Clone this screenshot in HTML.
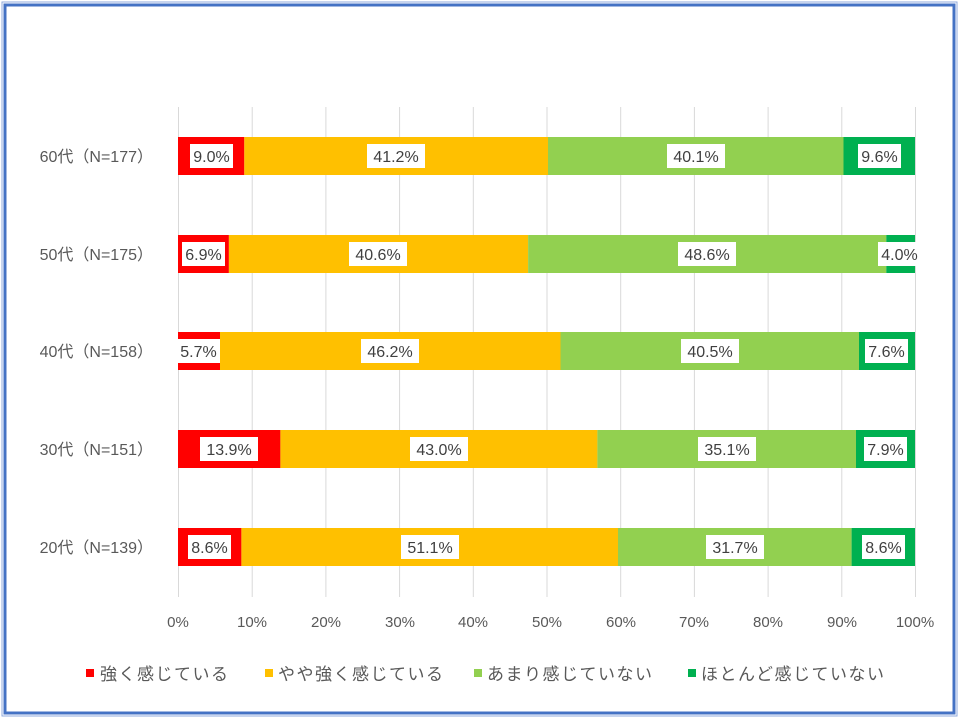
<!DOCTYPE html>
<html><head><meta charset="utf-8"><style>
html,body{margin:0;padding:0;background:#fff;}
svg{display:block;}
text{font-family:"Liberation Sans","Noto Sans CJK JP",sans-serif;}
</style></head><body>
<svg width="960" height="720" xmlns="http://www.w3.org/2000/svg">
<rect x="0" y="0" width="960" height="720" fill="#fff"/>
<rect x="5" y="5" width="949" height="708" fill="none" stroke="#4472C4" stroke-width="3"/>
<rect x="2" y="2" width="955" height="714" fill="none" stroke="#8FAADC" stroke-width="1"/>
<g stroke="#D9D9D9" stroke-width="1">
<line x1="178.5" y1="107" x2="178.5" y2="597"/><line x1="252.2" y1="107" x2="252.2" y2="597"/>
<line x1="325.9" y1="107" x2="325.9" y2="597"/><line x1="399.6" y1="107" x2="399.6" y2="597"/>
<line x1="473.3" y1="107" x2="473.3" y2="597"/><line x1="547" y1="107" x2="547" y2="597"/>
<line x1="620.7" y1="107" x2="620.7" y2="597"/><line x1="694.4" y1="107" x2="694.4" y2="597"/>
<line x1="768.1" y1="107" x2="768.1" y2="597"/><line x1="841.8" y1="107" x2="841.8" y2="597"/>
<line x1="915.5" y1="107" x2="915.5" y2="597"/>
</g>
<rect x="178" y="137" width="66.3" height="38" fill="#FF0000"/><rect x="244.3" y="137" width="303.7" height="38" fill="#FFC000"/><rect x="548" y="137" width="295.5" height="38" fill="#92D050"/><rect x="843.5" y="137" width="71.5" height="38" fill="#00B050"/>
<rect x="178" y="235" width="50.9" height="38" fill="#FF0000"/><rect x="228.9" y="235" width="299.2" height="38" fill="#FFC000"/><rect x="528.1" y="235" width="358.2" height="38" fill="#92D050"/><rect x="886.3" y="235" width="28.7" height="38" fill="#00B050"/>
<rect x="178" y="332" width="42" height="38" fill="#FF0000"/><rect x="220" y="332" width="340.5" height="38" fill="#FFC000"/><rect x="560.5" y="332" width="298.5" height="38" fill="#92D050"/><rect x="859" y="332" width="56" height="38" fill="#00B050"/>
<rect x="178" y="430" width="102.4" height="38" fill="#FF0000"/><rect x="280.4" y="430" width="317" height="38" fill="#FFC000"/><rect x="597.4" y="430" width="258.6" height="38" fill="#92D050"/><rect x="856" y="430" width="59" height="38" fill="#00B050"/>
<rect x="178" y="528" width="63.4" height="38" fill="#FF0000"/><rect x="241.4" y="528" width="376.6" height="38" fill="#FFC000"/><rect x="618" y="528" width="233.6" height="38" fill="#92D050"/><rect x="851.6" y="528" width="63.4" height="38" fill="#00B050"/>
<g fill="#fff">
<rect x="190" y="144" width="43" height="24"/><rect x="367" y="144" width="58" height="24"/><rect x="667" y="144" width="58" height="24"/><rect x="858" y="144" width="43" height="24"/>
<rect x="182" y="242" width="43" height="24"/><rect x="349" y="242" width="58" height="24"/><rect x="678" y="242" width="58" height="24"/><rect x="878" y="242" width="43" height="24"/>
<rect x="177" y="339" width="43" height="24"/><rect x="361" y="339" width="58" height="24"/><rect x="681" y="339" width="58" height="24"/><rect x="865" y="339" width="43" height="24"/>
<rect x="200" y="437" width="58" height="24"/><rect x="410" y="437" width="58" height="24"/><rect x="698" y="437" width="58" height="24"/><rect x="864" y="437" width="43" height="24"/>
<rect x="188" y="535" width="43" height="24"/><rect x="401" y="535" width="58" height="24"/><rect x="706" y="535" width="58" height="24"/><rect x="862" y="535" width="43" height="24"/>
</g>
<g font-size="16" fill="#404040" text-anchor="middle">
<text x="211.5" y="162">9.0%</text><text x="396" y="162">41.2%</text><text x="696" y="162">40.1%</text><text x="879.5" y="162">9.6%</text>
<text x="203.5" y="260">6.9%</text><text x="378" y="260">40.6%</text><text x="707" y="260">48.6%</text><text x="899.5" y="260">4.0%</text>
<text x="198.5" y="357">5.7%</text><text x="390" y="357">46.2%</text><text x="710" y="357">40.5%</text><text x="886.5" y="357">7.6%</text>
<text x="229" y="455">13.9%</text><text x="439" y="455">43.0%</text><text x="727" y="455">35.1%</text><text x="885.5" y="455">7.9%</text>
<text x="209.5" y="553">8.6%</text><text x="430" y="553">51.1%</text><text x="735" y="553">31.7%</text><text x="883.5" y="553">8.6%</text>
</g>
<g font-size="16" fill="#595959" text-anchor="end">
<text x="153" y="162">60代（N=177）</text>
<text x="153" y="260">50代（N=175）</text>
<text x="153" y="357">40代（N=158）</text>
<text x="153" y="455">30代（N=151）</text>
<text x="153" y="553">20代（N=139）</text>
</g>
<g font-size="15" fill="#595959" text-anchor="middle">
<text x="178" y="627">0%</text><text x="252" y="627">10%</text><text x="326" y="627">20%</text><text x="400" y="627">30%</text><text x="473" y="627">40%</text><text x="547" y="627">50%</text><text x="621" y="627">60%</text><text x="694" y="627">70%</text><text x="768" y="627">80%</text><text x="842" y="627">90%</text><text x="915" y="627">100%</text>
</g>
<rect x="86" y="669" width="8" height="8" fill="#FF0000"/>
<rect x="265" y="669" width="8" height="8" fill="#FFC000"/>
<rect x="474" y="669" width="8" height="8" fill="#92D050"/>
<rect x="688" y="669" width="8" height="8" fill="#00B050"/>
<g font-size="17" fill="#595959" letter-spacing="1.5">
<text x="100" y="680">強く感じている</text>
<text x="278" y="680">やや強く感じている</text>
<text x="487" y="680">あまり感じていない</text>
<text x="701" y="680">ほとんど感じていない</text>
</g>
</svg>
</body></html>
